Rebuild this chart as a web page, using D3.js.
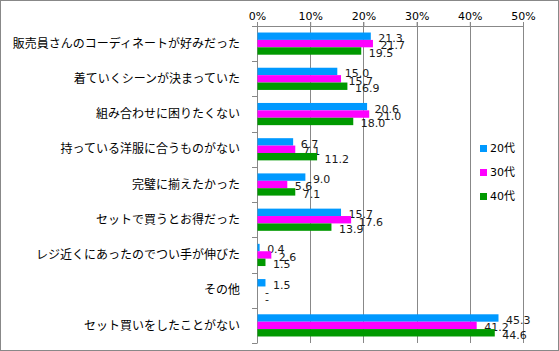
<!DOCTYPE html>
<html>
<head>
<meta charset="utf-8">
<script src="https://cdnjs.cloudflare.com/ajax/libs/d3/7.8.5/d3.min.js"></script>
<style>
  body { margin: 0; background: #fff; }
  svg text { font-family: "DejaVu Sans", "Noto Sans CJK JP", sans-serif; }
  .jp { font-family: "Noto Sans CJK JP", sans-serif; }
</style>
</head>
<body>
<svg id="chart"></svg>
<script>
let categories = [
    "販売員さんのコーディネートが好みだった",
    "着ていくシーンが決まっていた",
    "組み合わせに困りたくない",
    "持っている洋服に合うものがない",
    "完璧に揃えたかった",
    "セットで買うとお得だった",
    "レジ近くにあったのでつい手が伸びた",
    "その他",
    "セット買いをしたことがない"
];
let seriesNames = ["20代", "30代", "40代"];
let values20 = [21.3, 15.0, 20.6, 6.7, 9.0, 15.7, 0.4, 1.5, 45.3];
let values30 = [21.7, 15.7, 21.0, 7.1, 5.6, 17.6, 2.6, null, 41.2];
let values40 = [19.5, 16.9, 18.0, 11.2, 7.1, 13.9, 1.5, null, 44.6];
let tickValues = [0, 10, 20, 30, 40, 50];
let colors = ["#0099ff", "#ff00ff", "#009900"];

let W = 559, H = 351;
let margin = {top: 26, right: 36, bottom: 8, left: 257};
let width = W - margin.left - margin.right;
let height = H - margin.top - margin.bottom;

let svg = d3.select("#chart").attr("width", W).attr("height", H);

// outer frame
svg.append("rect")
    .attr("x", 0.5).attr("y", 0.5)
    .attr("width", W - 1).attr("height", H - 1)
    .attr("fill", "#fff").attr("stroke", "#888");

let plot = svg.append("g")
    .attr("transform", "translate(" + margin.left + "," + margin.top + ")");

let x = d3.scaleLinear().domain([0, 50]).range([0, width]);
let y = d3.scaleBand().domain(categories).range([0, height]).paddingInner(0.37).paddingOuter(0.185);
let ySub = d3.scaleBand().domain(seriesNames).range([0, y.bandwidth()]);

// gridlines
plot.selectAll(".grid")
    .data(tickValues.slice(1))
    .enter().append("line")
    .attr("x1", d => Math.round(x(d)) + 0.5).attr("x2", d => Math.round(x(d)) + 0.5)
    .attr("y1", -4).attr("y2", height)
    .attr("stroke", "#888");

// top axis
let xAxis = plot.append("g")
    .call(d3.axisTop(x).tickValues(tickValues).tickFormat(d => d + "%").tickSize(4).tickSizeOuter(0));
xAxis.select(".domain").attr("stroke", "#888");
xAxis.selectAll(".tick line").attr("stroke", "#888");
xAxis.selectAll(".tick text").attr("font-size", 11).attr("fill", "#000").attr("dy", "0.05em");

// left axis with ticks at category boundaries
let step = height / categories.length;
let boundaries = d3.range(categories.length + 1).map(i => Math.round(i * step) + 0.5);
plot.append("line")
    .attr("x1", 0.5).attr("x2", 0.5).attr("y1", 0).attr("y2", height)
    .attr("stroke", "#888");
plot.selectAll(".ytick")
    .data(boundaries)
    .enter().append("line")
    .attr("x1", -5).attr("x2", 0.5)
    .attr("y1", d => d).attr("y2", d => d)
    .attr("stroke", "#888");

// category labels
plot.selectAll(".cat")
    .data(categories)
    .enter().append("text")
    .attr("class", "jp")
    .attr("x", -17)
    .attr("y", d => y(d) + y.bandwidth() / 2)
    .attr("dy", "0.35em")
    .attr("text-anchor", "end")
    .attr("font-size", 12)
    .attr("fill", "#000")
    .text(d => d);

// bars
let allSeries = [values20, values30, values40];
allSeries.forEach(function(vals, si) {
    let name = seriesNames[si];
    let g = plot.append("g");
    g.selectAll("rect")
        .data(vals.map((v, i) => ({cat: categories[i], v: v})))
        .enter().append("rect")
        .attr("x", 0.5)
        .attr("y", d => y(d.cat) + ySub(name))
        .attr("width", d => d.v == null ? 0 : x(d.v))
        .attr("height", ySub.bandwidth())
        .attr("fill", colors[si]);
    g.selectAll("text")
        .data(vals.map((v, i) => ({cat: categories[i], v: v})))
        .enter().append("text")
        .attr("x", d => (d.v == null ? 0 : x(d.v)) + 8)
        .attr("y", d => y(d.cat) + ySub(name) + ySub.bandwidth() / 2 + 2)
        .attr("dy", "0.35em")
        .attr("font-size", 11)
        .attr("fill", "#1a1a1a")
        .text(d => d.v == null ? "-" : d.v.toFixed(1));
});

// legend
let legend = svg.append("g").attr("transform", "translate(480,148)");
seriesNames.forEach(function(name, i) {
    let row = legend.append("g").attr("transform", "translate(0," + (i * 24) + ")");
    row.append("rect").attr("x", 0).attr("y", -3).attr("width", 7).attr("height", 7).attr("fill", colors[i]);
    row.append("text")
        .attr("x", 10).attr("y", 0).attr("dy", "0.35em")
        .attr("font-size", 11).attr("fill", "#000")
        .text(name);
});
</script>
</body>
</html>
